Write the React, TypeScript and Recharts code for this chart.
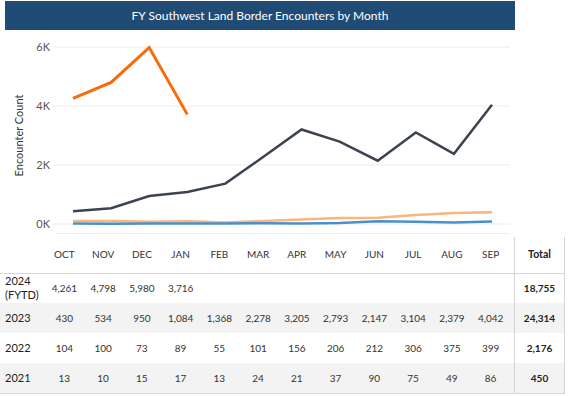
import { LineChart, Line, XAxis, YAxis, CartesianGrid } from 'recharts';

const months = ['OCT', 'NOV', 'DEC', 'JAN', 'FEB', 'MAR', 'APR', 'MAY', 'JUN', 'JUL', 'AUG', 'SEP'];
const fy2024 = [4261, 4798, 5980, 3716];
const fy2023 = [430, 534, 950, 1084, 1368, 2278, 3205, 2793, 2147, 3104, 2379, 4042];
const fy2022 = [104, 100, 73, 89, 55, 101, 156, 206, 212, 306, 375, 399];
const fy2021 = [13, 10, 15, 17, 13, 24, 21, 37, 90, 75, 49, 86];
const yTicks = [0, 2000, 4000, 6000];

const rowLabels = ['2024\n(FYTD)', '2023', '2022', '2021'];
const rowValues = [fy2024, fy2023, fy2022, fy2021];
const totals = [18755, 24314, 2176, 450];

const fmt = (v: number) => v.toLocaleString('en-US');

const colLeft = 45;
const colW = 38.75;
const rowTop = 273;
const rowH = 30;

export default function App() {
  const data = months.map((m, i) => ({
    month: m,
    y2024: fy2024[i] ?? null,
    y2023: fy2023[i],
    y2022: fy2022[i],
    y2021: fy2021[i],
  }));

  return (
    <div
      style={{
        position: 'absolute',
        left: 0,
        top: 0,
        width: 571,
        height: 396,
        background: '#fff',
        fontFamily: 'Lato, "Noto Sans", sans-serif',
        color: '#333',
      }}
    >
      <div
        style={{
          position: 'absolute',
          left: 5,
          top: 1,
          width: 510,
          height: 29,
          background: '#1f4b75',
          color: '#fff',
          fontSize: 12,
          display: 'flex',
          alignItems: 'center',
          justifyContent: 'center',
        }}
      >
        FY Southwest Land Border Encounters by Month
      </div>

      <div style={{ position: 'absolute', left: 0, top: 30 }}>
        <LineChart width={520} height={210} data={data} margin={{ top: 17, right: 10, bottom: 16, left: 0 }}>
          <CartesianGrid vertical={false} stroke="#ececec" />
          <XAxis dataKey="month" hide padding={{ left: 20, right: 18 }} />
          <YAxis
            width={53}
            domain={[0, 6000]}
            ticks={yTicks}
            tickFormatter={(v: number) => `${v / 1000}K`}
            axisLine={false}
            tickLine={false}
            tickSize={0}
            tickMargin={3}
            tick={{ fill: '#555', fontSize: 11 }}
            label={{
              value: 'Encounter Count',
              angle: -90,
              position: 'insideLeft',
              offset: 19,
              style: { textAnchor: 'middle', fill: '#333', fontSize: 11 },
            }}
          />
          <Line dataKey="y2023" stroke="#3c4350" strokeWidth={2.5} dot={false} isAnimationActive={false} />
          <Line dataKey="y2022" stroke="#fbb47a" strokeWidth={2.5} dot={false} isAnimationActive={false} />
          <Line dataKey="y2021" stroke="#4b8fcb" strokeWidth={2.5} dot={false} isAnimationActive={false} />
          <Line dataKey="y2024" stroke="#fa6a0a" strokeWidth={3} dot={false} isAnimationActive={false} />
        </LineChart>
      </div>

      {/* table */}
      <div style={{ position: 'absolute', left: 55, top: 233, width: 455, height: 1, background: '#efefef' }} />
      {[1, 3].map((r) => (
        <div
          key={r}
          style={{ position: 'absolute', left: 0, top: rowTop + r * rowH, width: 564, height: rowH, background: '#f3f3f3' }}
        />
      ))}
      <div style={{ position: 'absolute', left: 0, top: rowTop, width: 564, height: 1, background: '#d6d6d6' }} />
      <div style={{ position: 'absolute', left: 0, top: rowTop + 4 * rowH, width: 564, height: 1, background: '#d6d6d6' }} />
      <div style={{ position: 'absolute', left: 514, top: 237, width: 1, height: 157, background: '#d6d6d6' }} />
      <div style={{ position: 'absolute', left: 564, top: 237, width: 1, height: 157, background: '#d6d6d6' }} />

      {months.map((m, i) => (
        <div
          key={m}
          style={{
            position: 'absolute',
            left: colLeft + i * colW,
            top: 248,
            width: colW,
            textAlign: 'center',
            fontSize: 10,
            color: '#333',
          }}
        >
          {m}
        </div>
      ))}
      <div
        style={{ position: 'absolute', left: 515, top: 248, width: 49, textAlign: 'center', fontSize: 10.5, fontWeight: 700, color: '#222' }}
      >
        Total
      </div>

      {rowLabels.map((label, r) => (
        <div key={label}>
          <div
            style={{
              position: 'absolute',
              left: 5,
              top: rowTop + r * rowH,
              height: rowH,
              display: 'flex',
              alignItems: 'center',
              fontSize: 11,
              lineHeight: '14px',
              whiteSpace: 'pre',
              color: '#222',
            }}
          >
            {label}
          </div>
          {rowValues[r].map((v, i) => (
            <div
              key={i}
              style={{
                position: 'absolute',
                left: colLeft + i * colW,
                top: rowTop + r * rowH,
                width: colW,
                height: rowH,
                display: 'flex',
                alignItems: 'center',
                justifyContent: 'center',
                fontSize: 10,
                color: '#333',
              }}
            >
              {fmt(v)}
            </div>
          ))}
          <div
            style={{
              position: 'absolute',
              left: 515,
              top: rowTop + r * rowH,
              width: 49,
              height: rowH,
              display: 'flex',
              alignItems: 'center',
              justifyContent: 'center',
              fontSize: 10,
              fontWeight: 700,
              color: '#222',
            }}
          >
            {fmt(totals[r])}
          </div>
        </div>
      ))}
    </div>
  );
}
